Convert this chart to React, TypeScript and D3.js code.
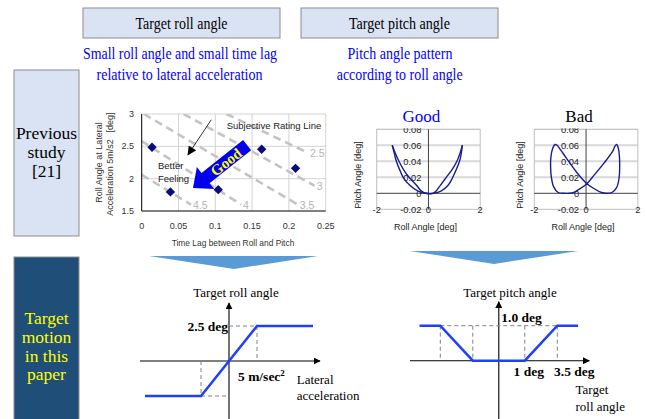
import React from 'react';
import * as d3 from 'd3';

const SERIF = '"Liberation Serif", "Times New Roman", serif';
const SANS = '"Liberation Sans", Arial, sans-serif';

// previous study: roll angle at 5 m/s2 vs time lag
const lagValues = [0.014, 0.039, 0.104, 0.163, 0.209];
const rollValues = [2.485, 1.795, 1.83, 2.455, 2.16];
const lagTicks = [0, 0.05, 0.1, 0.15, 0.2, 0.25];
const rollTicks = [1.5, 2, 2.5, 3];
const ratingLabels = ['4.5', '4', '3.5', '3', '2.5'];
const ratingLagFrom = [0, 0, 0.003, 0.057, 0.115];
const ratingRollFrom = [2.06, 2.58, 3, 3, 3];
const ratingLagTo = [0.067, 0.135, 0.212, 0.235, 0.226];
const ratingRollTo = [1.6, 1.6, 1.6, 1.89, 2.4];

// roll / pitch loops (deg): "good" as two branches, "bad" as a closed loop
const goodRollOut = [-1.4, -1.32, -1.24, -1.12, -0.98, -0.72, -0.42, -0.12, 0.18, 0.3, 0.46, 0.69, 0.92, 1.1, 1.22, 1.31];
const goodPitchOut = [0.06, 0.05, 0.04, 0.03, 0.02, 0.01, 0.003, 0.0, 0.0, 0.003, 0.01, 0.02, 0.03, 0.04, 0.05, 0.06];
const goodRollBack = [1.31, 1.27, 1.2, 1.08, 0.94, 0.76, 0.5, 0.2, -0.1, -0.28, -0.46, -0.75, -0.97, -1.14, -1.28, -1.4];
const goodPitchBack = [0.06, 0.05, 0.04, 0.03, 0.02, 0.01, 0.003, 0.0, 0.0, 0.003, 0.01, 0.02, 0.03, 0.04, 0.05, 0.06];
const badRoll = [-1.2, -1.3, -1.36, -1.37, -1.34, -1.25, -1.08, -0.85, -0.65, -0.48, -0.32, 0.0, 0.32, 0.7, 1.02, 1.12,
  1.18, 1.25, 1.29, 1.3, 1.28, 1.18, 1.0, 0.8, 0.6, 0.3, 0.0, -0.38, -0.76, -1.0, -1.12];
const badPitch = [0.061, 0.055, 0.045, 0.033, 0.02, 0.008, 0.001, 0.0, 0.0, 0.001, 0.004, 0.011, 0.023, 0.038, 0.052, 0.059,
  0.061, 0.056, 0.046, 0.034, 0.02, 0.007, 0.001, 0.0, 0.001, 0.006, 0.013, 0.027, 0.044, 0.055, 0.06];
const loopRollTicks = [-2, 0, 2];
const loopPitchTicks = [-0.02, 0, 0.02, 0.04, 0.06, 0.08];

// target motion of this paper
const accelPoints = [-15, -5, 5, 15];
const rollTargetPoints = [-2.5, -2.5, 2.5, 2.5];
const rollPoints = [-5.1, -3.5, -1, 1, 3.5, 5.1];
const pitchTargetPoints = [1, 1, 0, 0, 1, 1];

const BLUE_LINE = '#1f3fff';

const LoopChart = ({ left, branches, closed, title, titleColor, yLabelX, clipId }) => {
  const x = d3.scaleLinear().domain([-2, 2]).range([left, left + 103.5]);
  const y = d3.scaleLinear().domain([-0.02, 0.08]).range([209.3, 129.3]);
  const line = d3.line()
    .x(d => x(d[0]))
    .y(d => y(d[1]))
    .curve(closed ? d3.curveCatmullRomClosed.alpha(0.5) : d3.curveCatmullRom.alpha(0.5));
  const x0 = x(0);
  return (
    <g>
      <text x={x0 - 7} y={122} textAnchor="middle" fontFamily={SERIF} fontSize={17} fill={titleColor}>{title}</text>
      {loopPitchTicks.filter(t => t > 0).map(t => (
        <line key={t} x1={x(-2)} x2={x(2)} y1={y(t)} y2={y(t)} stroke="#d9d9d9" strokeWidth={t === 0.08 ? 1 : 2} />
      ))}
      <rect x={x(-2)} y={y(0.08)} width={x(2) - x(-2)} height={y(-0.02) - y(0.08)} fill="none" stroke="#bfbfbf" strokeWidth={1} />
      <line x1={x(-2)} x2={x(2)} y1={y(0)} y2={y(0)} stroke="#404040" strokeWidth={1} />
      <line x1={x0} x2={x0} y1={y(0.08)} y2={y(-0.02)} stroke="#404040" strokeWidth={1} />
      <g fontFamily={SANS} fontSize={9.3} fill="#222">
        <g clipPath={`url(#${clipId})`}>
          {loopPitchTicks.map(t => (
            <text key={t} x={x0 - 7} y={y(t)} dy="0.35em" textAnchor="end">{t === 0 ? '0' : t.toFixed(2)}</text>
          ))}
        </g>
        {loopRollTicks.map(t => (
          <text key={t} x={x(t)} y={y(-0.02)} dy="0.35em" textAnchor="middle">{t}</text>
        ))}
      </g>
      {branches.map((b, i) => (
        <path key={i} d={line(b[0].map((r, j) => [r, b[1][j]]))} fill="none" stroke="#1c1c8c" strokeWidth={1.4} />
      ))}
      <text transform={`translate(${yLabelX},175) rotate(-90)`} dy="0.35em" textAnchor="middle" fontFamily={SANS} fontSize={9} fill="#222">Pitch Angle [deg]</text>
      <text x={x0 - 3} y={230} textAnchor="middle" fontFamily={SANS} fontSize={9} fill="#222">Roll Angle [deg]</text>
    </g>
  );
};

const App = () => {
  const sx = d3.scaleLinear().domain([0, 0.25]).range([141.7, 325.7]);
  const sy = d3.scaleLinear().domain([1.5, 3]).range([211, 114]);
  const diamond = d3.symbol(d3.symbolSquare, 44)();

  // bottom left schematic
  const ax = d3.scaleLinear().domain([-5, 5]).range([201, 257]);
  const ay = d3.scaleLinear().domain([-2.5, 2.5]).range([396, 326]);
  const rollLine = d3.line().x(d => ax(d[0])).y(d => ay(d[1]))(accelPoints.map((a, i) => [a, rollTargetPoints[i]]));

  // bottom right schematic
  const px = d3.scaleLinear().domain([-3.5, -1, 0, 1, 3.5]).range([440.3, 472.8, 498.8, 524.8, 557.3]);
  const py = d3.scaleLinear().domain([0, 1]).range([360.7, 325.7]);
  const pitchLine = d3.line().x(d => px(d[0])).y(d => py(d[1]))(rollPoints.map((r, i) => [r, pitchTargetPoints[i]]));

  const arrowAngle = Math.atan2(42.7, -54) * 180 / Math.PI;

  return (
    <svg width={646} height={419} style={{ position: 'absolute', left: 0, top: 0, background: '#fff' }}>
      <defs>
        <marker id="axisHead" viewBox="0 0 10 10" refX={9} refY={5} markerWidth={7} markerHeight={7} markerUnits="userSpaceOnUse" orient="auto">
          <path d="M0,0L10,5L0,10Z" fill="#000" />
        </marker>
        <marker id="blackHead" viewBox="0 0 10 10" refX={9} refY={5} markerWidth={10} markerHeight={9} markerUnits="userSpaceOnUse" orient="auto">
          <path d="M0,0L10,5L0,10Z" fill="#000" />
        </marker>
        <clipPath id="clipGood"><rect x={0} y={128.3} width={646} height={100} /></clipPath>
        <clipPath id="clipBad"><rect x={0} y={128.3} width={646} height={100} /></clipPath>
        <clipPath id="scatterClip"><rect x={sx(0)} y={sy(3)} width={sx(0.25) - sx(0)} height={sy(1.5) - sy(3)} /></clipPath>
      </defs>

      {/* header boxes */}
      <rect x={83} y={8} width={197} height={30} fill="#dae3f3" stroke="#8c8c8c" />
      <text x={181.5} y={28.5} textAnchor="middle" fontFamily={SERIF} fontSize={16.5} textLength={92} lengthAdjust="spacingAndGlyphs">Target roll angle</text>
      <rect x={301} y={8} width={197} height={30} fill="#dae3f3" stroke="#8c8c8c" />
      <text x={399.5} y={28.5} textAnchor="middle" fontFamily={SERIF} fontSize={16.5} textLength={101} lengthAdjust="spacingAndGlyphs">Target pitch angle</text>

      <g fontFamily={SERIF} fontSize={16.5} fill="#0000ff" textAnchor="middle">
        <text x={180} y={59} textLength={194} lengthAdjust="spacingAndGlyphs">Small roll angle and small time lag</text>
        <text x={179.5} y={79.5} textLength={166} lengthAdjust="spacingAndGlyphs">relative to lateral acceleration</text>
        <text x={400} y={59} textLength={105} lengthAdjust="spacingAndGlyphs">Pitch angle pattern</text>
        <text x={399.7} y={79.5} textLength={126} lengthAdjust="spacingAndGlyphs">according to roll angle</text>
      </g>

      {/* row labels */}
      <rect x={14} y={70} width={65} height={166} fill="#dae3f3" stroke="#8c8c8c" />
      <g fontFamily={SERIF} fontSize={17.5} textAnchor="middle" fill="#000">
        <text x={46.5} y={139}>Previous</text>
        <text x={46.5} y={158}>study</text>
        <text x={46.5} y={176.5}>[21]</text>
      </g>
      <rect x={14} y={257} width={65} height={170} fill="#1f4e79" stroke="#8c8c8c" />
      <g fontFamily={SERIF} fontSize={17.5} textAnchor="middle" fill="#ffff00">
        <text x={46.5} y={323.5}>Target</text>
        <text x={46.5} y={342.5}>motion</text>
        <text x={46.5} y={361.5}>in this</text>
        <text x={46.5} y={380}>paper</text>
      </g>

      {/* scatter of previous study */}
      <g>
        {lagTicks.filter(t => t > 0).map(t => (
          <line key={t} x1={sx(t)} x2={sx(t)} y1={sy(3)} y2={sy(1.5)} stroke="#c8c8c8" strokeWidth={0.8} />
        ))}
        {rollTicks.filter(t => t > 1.5).map(t => (
          <line key={t} x1={sx(0)} x2={sx(0.25)} y1={sy(t)} y2={sy(t)} stroke="#c8c8c8" strokeWidth={0.8} />
        ))}
        <g clipPath="url(#scatterClip)">
          {ratingLabels.map((l, i) => (
            <line key={l} x1={sx(ratingLagFrom[i])} y1={sy(ratingRollFrom[i])} x2={sx(ratingLagTo[i])} y2={sy(ratingRollTo[i])}
              stroke="#c4c4c4" strokeWidth={2.6} strokeDasharray="8,5" />
          ))}
        </g>
        {ratingLabels.map((l, i) => (
          <text key={l} x={sx(ratingLagTo[i]) + 2} y={sy(ratingRollTo[i]) + 4} fontFamily={SANS} fontSize={10.5} fill="#b4b4b4">{l}</text>
        ))}
        <line x1={sx(0)} x2={sx(0)} y1={sy(3)} y2={sy(1.5)} stroke="#000" strokeWidth={1} />
        <line x1={sx(0)} x2={sx(0.25)} y1={sy(1.5)} y2={sy(1.5)} stroke="#000" strokeWidth={1} />
        {lagValues.map((v, i) => (
          <path key={i} d={diamond} transform={`translate(${sx(v)},${sy(rollValues[i])}) rotate(45)`} fill="#0b0b80" />
        ))}
        <g fontFamily={SANS} fontSize={9} fill="#333">
          {rollTicks.map(t => (
            <text key={t} x={134} y={sy(t)} dy="0.35em" textAnchor="end">{t}</text>
          ))}
          {lagTicks.map(t => (
            <text key={t} x={sx(t)} y={228.5} textAnchor="middle">{t}</text>
          ))}
        </g>
        <text x={233} y={246} textAnchor="middle" fontFamily={SANS} fontSize={8.4} fill="#333">Time Lag between Roll and Pitch</text>
        <g fontFamily={SANS} fontSize={9} fill="#333" textAnchor="middle">
          <text transform="translate(99,162.5) rotate(-90)" dy="0.35em">Roll Angle at Lateral</text>
          <text transform="translate(110,177.5) rotate(-90)" dy="0.35em">Acceleration 5m/s2</text>
          <text transform="translate(110,122.5) rotate(-90)" dy="0.35em">[deg]</text>
        </g>
        <text x={226.7} y={129} fontFamily={SANS} fontSize={9.5} fill="#222">Subjective Rating Line</text>
        <line x1={211.3} y1={119.7} x2={188} y2={154.7} stroke="#000" strokeWidth={0.8} markerEnd="url(#blackHead)" />
        <text x={158} y={168.7} fontFamily={SANS} fontSize={9.5} fill="#222">Better</text>
        <text x={158} y={181.5} fontFamily={SANS} fontSize={9.5} fill="#222">Feeling</text>
        <path d="M0,0L-16,-14L-16,-6.5L-69,-6.5L-69,6.5L-16,6.5L-16,14Z" transform={`translate(193,188) rotate(${arrowAngle})`} fill="#0000ee" />
        <text transform={`translate(226,162) rotate(${arrowAngle - 180})`} dy="0.35em" textAnchor="middle" fontFamily={SERIF} fontWeight="bold" fontSize={15} fill="#ffff00">Good</text>
      </g>

      <LoopChart left={376.7} branches={[[goodRollOut, goodPitchOut], [goodRollBack, goodPitchBack]]} closed={false}
        title="Good" titleColor="#0000ff" yLabelX={358.3} clipId="clipGood" />
      <LoopChart left={534.3} branches={[[badRoll, badPitch]]} closed={true}
        title="Bad" titleColor="#000" yLabelX={520} clipId="clipBad" />

      {/* down arrows */}
      <path d="M149,256L318,256L234,269Z" fill="#5b9bd5" />
      <path d="M410,251L578,251L494,264Z" fill="#5b9bd5" />

      {/* target roll angle schematic */}
      <g>
        <text x={236} y={296.5} textAnchor="middle" fontFamily={SERIF} fontSize={13}>Target roll angle</text>
        <line x1={140} x2={320} y1={ay(0)} y2={ay(0)} stroke="#000" strokeWidth={1.1} markerEnd="url(#axisHead)" />
        <line x1={ax(0)} x2={ax(0)} y1={419} y2={303} stroke="#000" strokeWidth={1.1} markerEnd="url(#axisHead)" />
        <g stroke="#808080" strokeWidth={1} strokeDasharray="4,3" fill="none">
          <line x1={ax(0)} x2={ax(5)} y1={ay(2.5)} y2={ay(2.5)} />
          <line x1={ax(5)} x2={ax(5)} y1={ay(2.5)} y2={ay(0)} />
          <line x1={ax(-5)} x2={ax(-5)} y1={ay(0)} y2={ay(-2.5)} />
          <line x1={ax(-5)} x2={ax(0)} y1={ay(-2.5)} y2={ay(-2.5)} />
        </g>
        <path d={rollLine} fill="none" stroke={BLUE_LINE} strokeWidth={2.5} />
        <text x={ax(0) - 1} y={ay(2.5) + 5} textAnchor="end" fontFamily={SERIF} fontWeight="bold" fontSize={13.5}>2.5 deg</text>
        <text x={238} y={381} fontFamily={SERIF} fontWeight="bold" fontSize={13.5}>5 m/sec<tspan dy={-5} fontSize={9}>2</tspan></text>
        <text x={296.7} y={384} fontFamily={SERIF} fontSize={13}>Lateral</text>
        <text x={296.7} y={400} fontFamily={SERIF} fontSize={13}>acceleration</text>
      </g>

      {/* target pitch angle schematic */}
      <g>
        <text x={510} y={296.5} textAnchor="middle" fontFamily={SERIF} fontSize={13}>Target pitch angle</text>
        <line x1={410} x2={589.3} y1={py(0)} y2={py(0)} stroke="#000" strokeWidth={1.1} markerEnd="url(#axisHead)" />
        <line x1={px(0)} x2={px(0)} y1={419} y2={301.7} stroke="#000" strokeWidth={1.1} markerEnd="url(#axisHead)" />
        <g stroke="#808080" strokeWidth={1} strokeDasharray="4,3" fill="none">
          <line x1={px(-3.5)} x2={px(3.5)} y1={py(1)} y2={py(1)} />
          {[-3.5, -1, 1, 3.5].map(r => (
            <line key={r} x1={px(r)} x2={px(r)} y1={py(1)} y2={py(0)} />
          ))}
        </g>
        <path d={pitchLine} fill="none" stroke={BLUE_LINE} strokeWidth={2.5} />
        <text x={px(0) + 2.5} y={322} fontFamily={SERIF} fontWeight="bold" fontSize={13.5}>1.0 deg</text>
        <text x={px(1) + 4} y={376} textAnchor="middle" fontFamily={SERIF} fontWeight="bold" fontSize={13.5}>1 deg</text>
        <text x={px(3.5) + 17} y={376} textAnchor="middle" fontFamily={SERIF} fontWeight="bold" fontSize={13.5}>3.5 deg</text>
        <text x={575.5} y={394} fontFamily={SERIF} fontSize={13}>Target</text>
        <text x={575.5} y={411} fontFamily={SERIF} fontSize={13}>roll angle</text>
      </g>
    </svg>
  );
};

export default App;
